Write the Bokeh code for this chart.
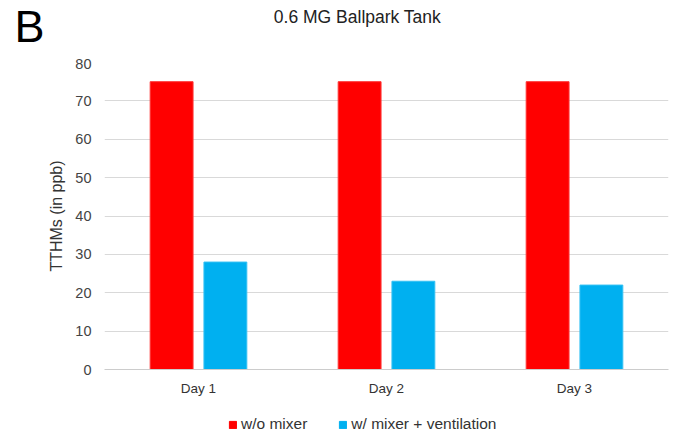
from bokeh.plotting import figure
from bokeh.models import FactorRange, Range1d, Label, Legend, LegendItem, ColumnDataSource
from bokeh.transform import dodge
from bokeh.layouts import column
from bokeh.embed import file_html
from bokeh.resources import INLINE

days = ["Day 1", "Day 2", "Day 3"]
without_mixer = [75, 75, 75]
with_mixer_vent = [28, 23, 22]
series_names = ["w/o mixer", "w/ mixer + ventilation"]
colors = ["#ff0000", "#00b0f0"]
y_ticks = [0, 10, 20, 30, 40, 50, 60, 70, 80]
panel_letter = "B"
chart_title = "0.6 MG Ballpark Tank"

W = 670
FONT = "Liberation Sans"
NAN = float("nan")


def bare(fig):
    fig.outline_line_color = None
    fig.xgrid.visible = False
    fig.ygrid.visible = False
    fig.frame_align = False
    return fig


# ---- header strip (panel letter + title) ----
head = bare(figure(width=W, height=58, x_range=Range1d(0, W), y_range=Range1d(0, 58),
                   x_axis_type=None, y_axis_type=None, output_backend="svg",
                   toolbar_location=None, min_border=0))
head.add_layout(Label(x=14, y=6.5, x_units="screen", y_units="screen", text=panel_letter,
                      text_font=FONT, text_font_size="45px", text_color="black",
                      text_baseline="bottom"))
head.add_layout(Label(x=357, y=32, x_units="screen", y_units="screen", text=chart_title,
                      text_font=FONT, text_font_size="17.5px", text_color="#222222",
                      text_baseline="bottom", text_align="center"))

# ---- main chart ----
src = ColumnDataSource(dict(day=days, a=without_mixer, b=with_mixer_vent))

p = figure(width=W, height=352, x_range=FactorRange(*days), y_range=(0, 80),
           output_backend="svg", toolbar_location=None,
           min_border_left=104, min_border_right=2, min_border_top=4, min_border_bottom=41)
p.outline_line_color = None
p.frame_align = False

p.vbar(x=dodge("day", -0.143, range=p.x_range), top="a", width=0.228, source=src,
       fill_color=colors[0], line_color="#ff3333")
p.vbar(x=dodge("day", 0.143, range=p.x_range), top="b", width=0.228, source=src,
       fill_color=colors[1], line_color="#33c0f3")

p.yaxis.ticker = y_ticks
p.yaxis.axis_line_color = None
p.yaxis.major_tick_line_color = None
p.yaxis.minor_tick_line_color = None
p.yaxis.major_label_text_font = FONT
p.yaxis.major_label_text_font_size = "14.5px"
p.yaxis.major_label_text_color = "#444444"
p.yaxis.major_label_standoff = 7
p.yaxis.axis_label = "TTHMs (in ppb)"
p.yaxis.axis_label_text_font = FONT
p.yaxis.axis_label_text_font_size = "16px"
p.yaxis.axis_label_text_font_style = "normal"
p.yaxis.axis_label_text_color = "#333333"
p.yaxis.axis_label_standoff = 7

p.xaxis.axis_line_color = "#cccccc"
p.xaxis.major_tick_line_color = None
p.xaxis.minor_tick_line_color = None
p.xaxis.major_label_text_font = FONT
p.xaxis.major_label_text_font_size = "13.5px"
p.xaxis.major_label_text_color = "#333333"
p.xaxis.major_label_standoff = 5

p.xgrid.grid_line_color = None
p.ygrid.grid_line_color = "#d9d9d9"

# ---- legend strip ----
leg = bare(figure(width=W, height=24, x_range=Range1d(0, 1), y_range=Range1d(0, 1),
                  x_axis_type=None, y_axis_type=None, output_backend="svg",
                  toolbar_location=None, min_border=0))
lr1 = leg.vbar(x=[NAN], top=[NAN], width=0.1, fill_color=colors[0], line_color=colors[0])
lr2 = leg.vbar(x=[NAN], top=[NAN], width=0.1, fill_color=colors[1], line_color=colors[1])
legend = Legend(items=[LegendItem(label=series_names[0], renderers=[lr1]),
                       LegendItem(label=series_names[1], renderers=[lr2])],
                orientation="horizontal", border_line_color=None,
                background_fill_alpha=0,
                label_text_font=FONT, label_text_font_size="15.5px",
                label_text_color="#333333", glyph_width=9, glyph_height=9,
                label_height=16, label_standoff=4, spacing=31,
                margin=0, padding=0, location=(228, 1))
leg.add_layout(legend)

layout = column(head, p, leg, spacing=0)
open("out.html", "w").write(file_html(layout, INLINE))
